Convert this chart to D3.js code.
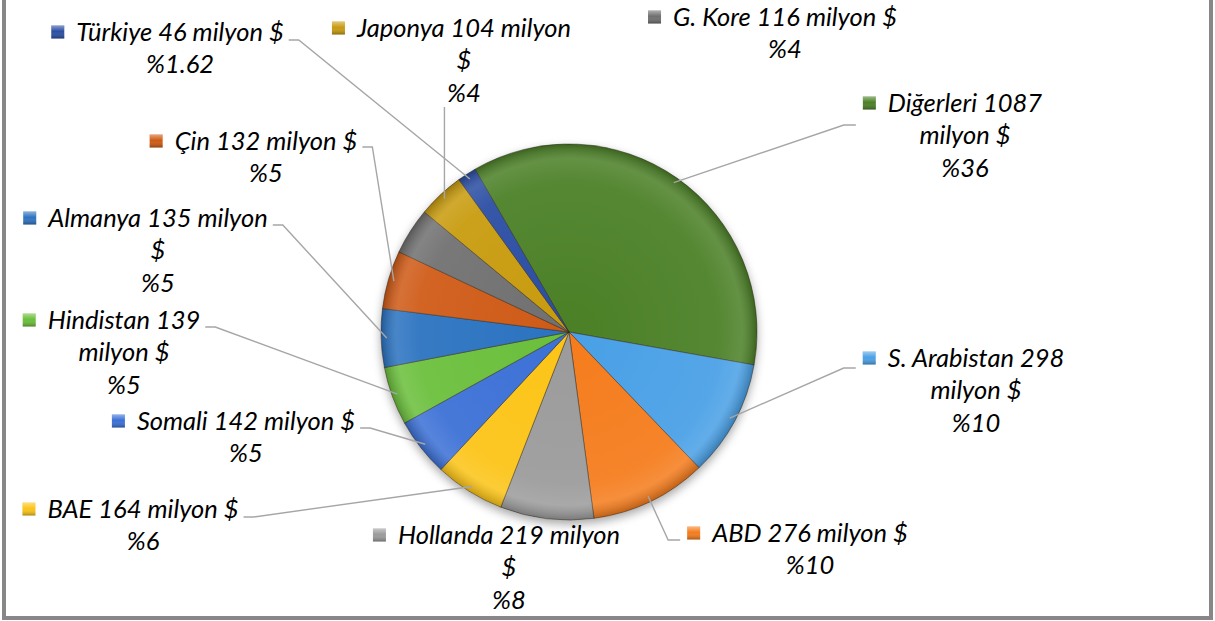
<!DOCTYPE html>
<html>
<head>
<meta charset="utf-8">
<script src="https://cdn.jsdelivr.net/npm/d3@7"></script>
<style>
  body { margin: 0; background: #fff; }
  .lbl { font-family: Lato, "Open Sans", sans-serif; font-style: italic; font-size: 25.5px; fill: #000; }
</style>
</head>
<body>
<script>
var svgWidth = 1215;
var svgHeight = 621;

// data (clockwise from the big green slice)
var countries = ["Diğerleri", "S. Arabistan", "ABD", "Hollanda", "BAE", "Somali", "Hindistan", "Almanya", "Çin", "G. Kore", "Japonya", "Türkiye"];
var amounts = [1087, 298, 276, 219, 164, 142, 139, 135, 132, 116, 104, 46];   // milyon $
var shares = [36, 10, 10, 8, 6, 5, 5, 5, 5, 4, 4, 1.62];                      // %
var colors = ["#4b8026", "#4aa0e6", "#f57c1c", "#9b9b9b", "#fcc419", "#3a6fd6", "#6abf3a", "#2c72c0", "#cf5a12", "#6f6f6f", "#c89b10", "#2a4ea3"];

// label layout: block centre x, first line centre y, words on first line, leader side, leader y offset
var labelLayout = [
  {cx: 965, cy: 103, split: 2, side: "left", dy: 22},
  {cx: 976, cy: 358, split: 3, side: "left", dy: 10},
  {cx: 810, cy: 533, split: 4, side: "left", dy: 7},
  {cx: 509, cy: 535, split: 3, side: "none", dy: 0},
  {cx: 143, cy: 509, split: 4, side: "right", dy: 8},
  {cx: 246, cy: 421, split: 5, side: "right", dy: 7},
  {cx: 124, cy: 320, split: 2, side: "right", dy: 7},
  {cx: 158, cy: 218, split: 3, side: "right", dy: 7},
  {cx: 266, cy: 141, split: 4, side: "right", dy: 6},
  {cx: 785, cy: 17, split: 5, side: "none", dy: 0},
  {cx: 464, cy: 28, split: 3, side: "bottom", dy: 0},
  {cx: 180, cy: 32, split: 4, side: "right", dy: 8}
];

var lineGap = 32.5;
var cx = 569, cy = 332, radius = 188;
var startDeg = -30;

var svg = d3.select("body")
  .append("svg")
  .attr("width", svgWidth)
  .attr("height", svgHeight);

var defs = svg.append("defs");

// drop shadow under the pie
var shadow = defs.append("filter").attr("id", "shadow")
  .attr("x", "-20%").attr("y", "-20%").attr("width", "140%").attr("height", "140%");
shadow.append("feDropShadow")
  .attr("dx", 0).attr("dy", 4).attr("stdDeviation", 5)
  .attr("flood-color", "#000").attr("flood-opacity", 0.35);

// bevel-ish overlay
var bevel = defs.append("radialGradient").attr("id", "bevel")
  .attr("gradientUnits", "userSpaceOnUse")
  .attr("cx", 0).attr("cy", 0).attr("r", radius);
bevel.append("stop").attr("offset", "0%").attr("stop-color", "#fff").attr("stop-opacity", 0);
bevel.append("stop").attr("offset", "80%").attr("stop-color", "#fff").attr("stop-opacity", 0.06);
bevel.append("stop").attr("offset", "92%").attr("stop-color", "#fff").attr("stop-opacity", 0.14);
bevel.append("stop").attr("offset", "100%").attr("stop-color", "#000").attr("stop-opacity", 0.22);

var markGrad = defs.append("linearGradient").attr("id", "markGrad")
  .attr("x1", 0).attr("y1", 0).attr("x2", 0).attr("y2", 1);
markGrad.append("stop").attr("offset", "0%").attr("stop-color", "#fff").attr("stop-opacity", 0.45);
markGrad.append("stop").attr("offset", "45%").attr("stop-color", "#fff").attr("stop-opacity", 0);
markGrad.append("stop").attr("offset", "100%").attr("stop-color", "#000").attr("stop-opacity", 0.3);

// frame (top edge is cut off in the original)
svg.append("rect")
  .attr("x", 4).attr("y", -10)
  .attr("width", 1207).attr("height", 628)
  .attr("fill", "none")
  .attr("stroke", "#878787")
  .attr("stroke-width", 4);

var pie = d3.pie()
  .sort(null)
  .value(d => d)
  .startAngle(startDeg * Math.PI / 180)
  .endAngle((startDeg + 360) * Math.PI / 180);

var arcs = pie(shares);

var arc = d3.arc().innerRadius(0).outerRadius(radius);
var edgeArc = d3.arc().innerRadius(radius * 0.97).outerRadius(radius * 0.97);

var pieGroup = svg.append("g")
  .attr("transform", `translate(${cx}, ${cy})`);

var slices = pieGroup.append("g").attr("filter", "url(#shadow)");

slices.selectAll("path.slice")
  .data(arcs)
  .enter()
  .append("path")
  .attr("class", "slice")
  .attr("d", arc)
  .attr("fill", (d, i) => colors[i])
  .attr("stroke", "rgba(50,40,30,0.55)")
  .attr("stroke-width", 0.9);

pieGroup.selectAll("path.shade")
  .data(arcs)
  .enter()
  .append("path")
  .attr("class", "shade")
  .attr("d", arc)
  .attr("fill", "url(#bevel)");

// labels
var labelGroup = svg.append("g");

arcs.forEach(function(a, i) {
  var lay = labelLayout[i];
  var words = (countries[i] + " " + amounts[i] + " milyon $").split(" ");
  // "G. Kore" / "S. Arabistan" keep their abbreviation with the name
  var lines = [words.slice(0, lay.split).join(" ")];
  if (lay.split < words.length) lines.push(words.slice(lay.split).join(" "));
  lines.push("%" + shares[i]);

  var g = labelGroup.append("g");
  var first = null;
  lines.forEach(function(t, k) {
    var txt = g.append("text")
      .attr("class", "lbl")
      .attr("x", lay.cx)
      .attr("y", lay.cy + k * lineGap + 8.5)
      .attr("text-anchor", "middle")
      .text(t);
    if (k === 0) first = txt;
  });

  var w = first.node().getComputedTextLength();
  var left = lay.cx - w / 2;
  var right = lay.cx + w / 2;
  var mSize = 13;
  var mx = left - 12 - mSize;
  var my = lay.cy - mSize / 2;

  g.append("rect")
    .attr("x", mx).attr("y", my)
    .attr("width", mSize).attr("height", mSize)
    .attr("fill", colors[i]);
  g.append("rect")
    .attr("x", mx).attr("y", my)
    .attr("width", mSize).attr("height", mSize)
    .attr("fill", "url(#markGrad)");

  if (lay.side === "none") return;

  var p = edgeArc.centroid(a);
  var px = cx + p[0], py = cy + p[1];
  var path;
  if (lay.side === "right") {
    var y0 = lay.cy + lay.dy;
    path = `M${right + 5},${y0}H${right + 15}L${px},${py}`;
  } else if (lay.side === "left") {
    var y1 = lay.cy + lay.dy;
    path = `M${mx - 7},${y1}H${mx - 19}L${px},${py}`;
  } else {
    var yb = lay.cy + (lines.length - 1) * lineGap + 14;
    path = `M${px},${yb}L${px},${py}`;
  }
  svg.append("path")
    .attr("d", path)
    .attr("fill", "none")
    .attr("stroke", "#a6a6a6")
    .attr("stroke-width", 1.4);
});
</script>
</body>
</html>
